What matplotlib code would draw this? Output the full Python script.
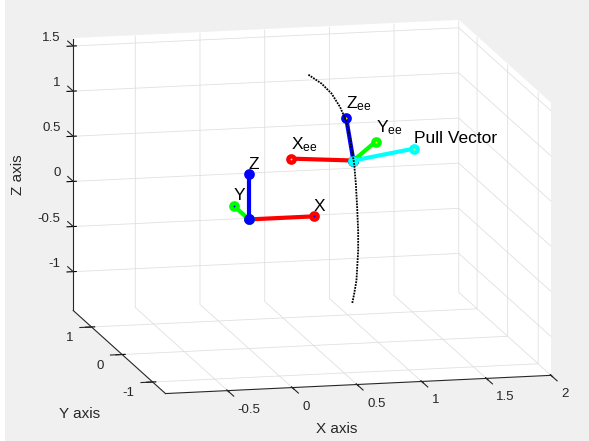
import numpy as np
import matplotlib
matplotlib.use("Agg")
import matplotlib.pyplot as plt
from matplotlib.patches import Rectangle
from mpl_toolkits.mplot3d import proj3d

# ---- axis ranges and ticks -------------------------------------------------
x_range = (-0.98, 2.0)
y_range = (-1.42, 1.6)
z_range = (-1.43, 1.58)
x_ticks = [-0.5, 0.0, 0.5, 1.0, 1.5, 2.0]
y_ticks = [-1.0, 0.0, 1.0]
z_ticks = [-1.0, -0.5, 0.0, 0.5, 1.0, 1.5]
x_tick_labels = ["-0.5", "0", "0.5", "1", "1.5", "2"]
y_tick_labels = ["-1", "0", "1"]
z_tick_labels = ["-1", "-0.5", "0", "0.5", "1", "1.5"]

# ---- base frame (world origin) ----------------------------------------------
base_origin = [0.0, 0.0, 0.0]
base_x_tip = [0.5, 0.0, 0.0]
base_y_tip = [0.0, 0.5, 0.0]
base_z_tip = [0.0, 0.0, 0.5]

# ---- end-effector frame and pull direction ------------------------------------
ee_origin = [0.6, -0.88, 0.88]
ee_x_tip = [0.106, -0.93, 0.95]
ee_y_tip = [0.684, -1.257, 1.20]
ee_z_tip = [0.62, -0.556, 1.256]
pull_tip = [1.067, -0.88, 0.98]

# ---- end-effector path --------------------------------------------------------
traj_x = [0.6, 0.6, 0.6, 0.6, 0.6, 0.6, 0.6, 0.6, 0.6, 0.6, 0.6, 0.6, 0.6, 0.6, 0.6]
traj_y = [0.593, 0.160, -0.166, -0.440, -0.655, -0.765, -0.840, -0.906,
          -0.961, -1.003, -1.036, -1.036, -0.980, -0.906, -0.840]
traj_z = [1.382, 1.415, 1.404, 1.341, 1.242, 1.091, 0.968, 0.845,
          0.642, 0.395, 0.148, -0.072, -0.419, -0.587, -0.716]

# ---- style ----------------------------------------------------------------------
plt.rcParams["font.family"] = ["Liberation Sans", "DejaVu Sans"]
plt.rcParams["mathtext.fontset"] = "custom"
plt.rcParams["mathtext.rm"] = "Liberation Sans"
plt.rcParams["mathtext.it"] = "Liberation Sans:italic"
plt.rcParams["grid.color"] = "#e0e0e0"
plt.rcParams["grid.linewidth"] = 0.6
plt.rcParams["grid.linestyle"] = "-"

ink = "#262626"
tick_fs = 9.5
label_fs = 11
text_fs = 12.5

W, H = 589, 441
fig = plt.figure(figsize=(W / 100, H / 100), dpi=100, facecolor="#f0f0f0")
fig.patches.append(Rectangle((0, 0), 5 / W, 1, transform=fig.transFigure,
                             facecolor="white", edgecolor="none", zorder=-10))

ax = fig.add_axes([0.1, 0.1, 0.8, 0.8], projection="3d", computed_zorder=False)
ax.set_facecolor("none")
ax.set_proj_type("ortho")
ax.view_init(elev=11.9, azim=-102.9)
ax.set_box_aspect((1.0, 1.045, 0.702))
ax.set_xlim(*x_range)
ax.set_ylim(*y_range)
ax.set_zlim(*z_range)
ax.set_xticks(x_ticks)
ax.set_yticks(y_ticks)
ax.set_zticks(z_ticks)
for axis in (ax.xaxis, ax.yaxis, ax.zaxis):
    axis.set_pane_color((1, 1, 1, 1))
    axis.pane.set_edgecolor((1, 1, 1, 1))
    axis.line.set_color((0, 0, 0, 0))
    axis.label.set_visible(False)
    axis.offsetText.set_visible(False)
    for tk in axis.get_major_ticks():
        tk.label1.set_visible(False)
        tk.label2.set_visible(False)
        tk.tick1line.set_visible(False)
        tk.tick2line.set_visible(False)
ax.grid(True)

x0, x1 = x_range
y0, y1 = y_range
z0, z1 = z_range

# texts anchored at 3D points; placed once the projection is final
anchored_texts = []


def text3d(x, y, z, s, **kw):
    anchored_texts.append((x, y, z, s, kw))


# axis lines along the front/left box edges
ax.plot([x0, x1], [y0, y0], [z0, z0], color=ink, lw=0.8, zorder=2)
ax.plot([x0, x0], [y0, y1], [z0, z0], color=ink, lw=0.8, zorder=2)
ax.plot([x0, x0], [y1, y1], [z0, z1], color=ink, lw=0.8, zorder=2)

# tick marks and tick labels
tk_kw = dict(fontsize=tick_fs, color=ink, va="center")
for t, s in zip(x_ticks, x_tick_labels):
    ax.plot([t, t], [y0, y0 - 0.2], [z0, z0], color=ink, lw=0.8, zorder=2)
    text3d(t, y0 - 0.33, z0 - 0.11, s, ha="left", **tk_kw)
for t, s in zip(y_ticks, y_tick_labels):
    ax.plot([x0, x0 - 0.09], [t, t], [z0, z0], color=ink, lw=0.8, zorder=2)
    text3d(x0 - 0.14, t, z0 - 0.113, s, ha="right", **tk_kw)
for t, s in zip(z_ticks, z_tick_labels):
    ax.plot([x0, x0], [y1, y1 + 0.18], [t, t], color=ink, lw=0.8, zorder=2)
    text3d(x0 - 0.027, y1 + 0.296, t, s, ha="right", **tk_kw)


def frame_axis(start, tip, color, center, z):
    ax.plot([start[0], tip[0]], [start[1], tip[1]], [start[2], tip[2]],
            color=color, lw=3, marker="o", ms=4.6, mew=3.1, mec=color,
            mfc=center, solid_capstyle="butt", zorder=z)


# base frame
frame_axis(base_origin, base_x_tip, "#ff0000", "#0000ff", 5)
frame_axis(base_origin, base_y_tip, "#00ff00", "#0000ff", 6)
frame_axis(base_origin, base_z_tip, "#0000ff", "#0000ff", 7)

# end-effector frame and pull vector
frame_axis(ee_origin, ee_x_tip, "#ff0000", "#ffff00", 5)
frame_axis(ee_origin, ee_y_tip, "#00ff00", "#ffff00", 6)
frame_axis(ee_origin, ee_z_tip, "#0000ff", "#ffff00", 7)
frame_axis(ee_origin, pull_tip, "#00ffff", "#ffff00", 8)

# path of the end effector
ax.plot(traj_x, traj_y, traj_z, color="black", lw=1.3, ls=(0, (1, 0.6)), zorder=9)

# frame labels
lab = dict(ha="left", va="center", fontsize=text_fs, color="black", zorder=10)
text3d(base_x_tip[0], base_x_tip[1], base_x_tip[2] + 0.11, "X", **lab)
text3d(base_y_tip[0], base_y_tip[1], base_y_tip[2] + 0.11, "Y", **lab)
text3d(base_z_tip[0], base_z_tip[1], base_z_tip[2] + 0.11, "Z", **lab)
text3d(ee_x_tip[0], ee_x_tip[1], ee_x_tip[2] + 0.15, r"$\mathregular{X_{ee}}$", **lab)
text3d(ee_y_tip[0], ee_y_tip[1], ee_y_tip[2] + 0.15, r"$\mathregular{Y_{ee}}$", **lab)
text3d(ee_z_tip[0], ee_z_tip[1], ee_z_tip[2] + 0.15, r"$\mathregular{Z_{ee}}$", **lab)
text3d(pull_tip[0], pull_tip[1], pull_tip[2] + 0.11, "Pull Vector", **lab)

ax.set_xlim(*x_range)
ax.set_ylim(*y_range)
ax.set_zlim(*z_range)

# ---- place the projected box on the canvas --------------------------------------
# pixel positions (from top-left) wanted for six box corners
box_corners = [(x0, y0, z0), (x0, y1, z0), (x1, y0, z0),
               (x1, y1, z1), (x0, y1, z1), (x1, y0, z1)]
box_corner_px = [(166, 394), (73.3, 310.7), (551.7, 375.7),
                 (456.7, 24), (73.3, 37), (551.7, 101)]

fig.canvas.draw()
cx, cy, cz = np.array(box_corners).T
px, py, _ = proj3d.proj_transform(cx, cy, cz, ax.M)
disp = ax.transData.transform(np.column_stack([px, py]))
frac = ax.transAxes.inverted().transform(disp)
rows, rhs = [], []
for (u, v), (tx, ty) in zip(frac, box_corner_px):
    rows.append([1, 0, u]); rhs.append(tx)
    rows.append([0, 1, v]); rhs.append(H - ty)
ox, oy, S = np.linalg.lstsq(np.array(rows), np.array(rhs), rcond=None)[0]
ax.set_position([ox / W, oy / H, S / W, S / H])
fig.canvas.draw()

# texts at their projected anchor points
for (x, y, z, s, kw) in anchored_texts:
    qx, qy, _ = proj3d.proj_transform(np.array([x]), np.array([y]), np.array([z]), ax.M)
    d = ax.transData.transform([[qx[0], qy[0]]])
    f = fig.transFigure.inverted().transform(d)[0]
    fig.text(f[0], f[1], s, **kw)

# ---- axis titles --------------------------------------------------------------------
fig.text(336.7 / W, 1 - 429.3 / H, "X axis", ha="center", va="center",
         fontsize=label_fs, color=ink)
fig.text(80 / W, 1 - 414 / H, "Y axis", ha="center", va="center",
         fontsize=label_fs, color=ink)
fig.text(18.3 / W, 1 - 175 / H, "Z axis", ha="center", va="center",
         rotation=90, fontsize=label_fs, color=ink)

fig.savefig("out.png", dpi=100, facecolor=fig.get_facecolor())
